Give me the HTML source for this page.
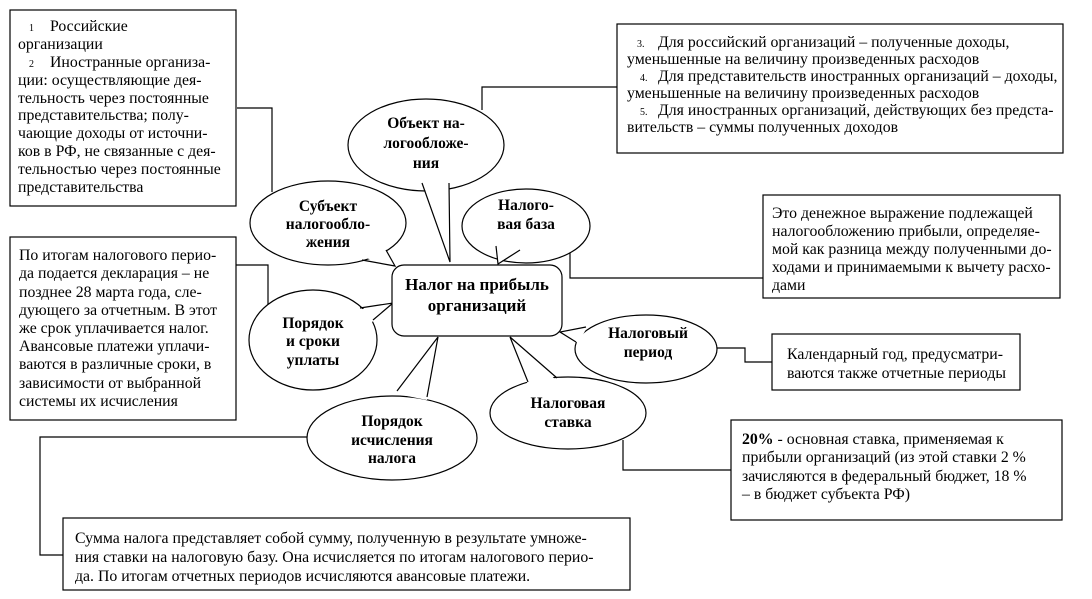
<!DOCTYPE html>
<html><head><meta charset="utf-8"><style>
html,body{margin:0;padding:0;background:#fff;}
svg{display:block;}
text{font-family:"Liberation Serif","DejaVu Serif",serif;fill:#000;}
.t{font-size:15.8px;}
.b{font-size:15.5px;font-weight:bold;}
</style></head><body>
<svg width="1092" height="599" viewBox="0 0 1092 599" xmlns="http://www.w3.org/2000/svg">
<g fill="none" stroke="#000" stroke-width="1.2">
<polyline points="237,108 272,108 272,192"/>
<polyline points="617,87 482,87 482,110"/>
<polyline points="570,240 570,278 763,278"/>
<polyline points="236,265 268,265 268,322"/>
<polyline points="717,348 745,348 745,362 772,362"/>
<polyline points="623,440 623,470 731,470"/>
<polyline points="307,437 40,437 40,555 63,555"/>
<rect x="10" y="10" width="226" height="196"/>
<rect x="617" y="24" width="446" height="129"/>
<rect x="763" y="195" width="297" height="103"/>
<rect x="10" y="237" width="226" height="183"/>
<rect x="772" y="334" width="248" height="56"/>
<rect x="731" y="420" width="331" height="100"/>
<rect x="63" y="518" width="567" height="72"/>
</g>
<g stroke="#000" stroke-width="1.2">
<ellipse cx="426" cy="145" rx="78" ry="46" fill="#fff"/>
<polygon points="422,181 450,262 449,181" fill="#fff" stroke="none"/>
<polyline points="422,183 450,262 449,183" fill="none"/>

<ellipse cx="328" cy="223" rx="78" ry="42" fill="#fff"/>
<polygon points="384,247 395,266 362,257" fill="#fff" stroke="none"/>
<polyline points="386,250 395,266 362,260" fill="none"/>

<ellipse cx="526" cy="226" rx="64" ry="37" fill="#fff"/>
<polygon points="496,242 498,264 520,247" fill="#fff" stroke="none"/>
<polyline points="496,246 498,264 520,250" fill="none"/>

<ellipse cx="313" cy="340" rx="64" ry="50" fill="#fff"/>
<polygon points="358,310 393,303 371,323" fill="#fff" stroke="none"/>
<polyline points="360,308 393,303 373,320" fill="none"/>

<ellipse cx="392" cy="438" rx="85" ry="42" fill="#fff"/>
<polygon points="397,394 438,337 427,400" fill="#fff" stroke="none"/>
<polyline points="397,391 438,337 427,397" fill="none"/>

<ellipse cx="568" cy="413" rx="78" ry="36" fill="#fff"/>
<polygon points="528,385 510,337 557,381" fill="#fff" stroke="none"/>
<polyline points="528,382 510,337 557,378" fill="none"/>

<ellipse cx="646" cy="349" rx="71" ry="34" fill="#fff"/>
<polygon points="578,343 560,332 588,326" fill="#fff" stroke="none"/>
<polyline points="576,342 560,332 586,327" fill="none"/>

<rect x="392" y="265" width="170" height="71" rx="12" ry="12" fill="#fff"/>
</g>
<g class="b" text-anchor="middle">
<text x="426" y="128">Объект на-</text>
<text x="426" y="148">логообложе-</text>
<text x="426" y="168">ния</text>
<text x="328" y="211">Субъект</text>
<text x="328" y="229">налогообло-</text>
<text x="328" y="247">жения</text>
<text x="526" y="210">Налого-</text>
<text x="526" y="229">вая база</text>
<text x="313" y="328">Порядок</text>
<text x="313" y="346">и сроки</text>
<text x="313" y="365">уплаты</text>
<text x="392" y="426">Порядок</text>
<text x="392" y="445">исчисления</text>
<text x="392" y="463">налога</text>
<text x="568" y="408">Налоговая</text>
<text x="568" y="427">ставка</text>
<text x="648" y="338">Налоговый</text>
<text x="648" y="357">период</text>
<text x="477" y="290" style="font-size:17px">Налог на прибыль</text>
<text x="477" y="311" style="font-size:17px">организаций</text>
</g>
<g class="t">
<text x="29" y="31"><tspan font-size="10">1</tspan><tspan x="50">Российские</tspan></text>
<text x="18" y="49">организации</text>
<text x="29" y="67"><tspan font-size="10">2</tspan><tspan x="50">Иностранные организа-</tspan></text>
<text x="18" y="85">ции: осуществляющие дея-</text>
<text x="18" y="103">тельность через постоянные</text>
<text x="18" y="120">представительства; полу-</text>
<text x="18" y="138">чающие доходы от источни-</text>
<text x="18" y="156">ков в РФ, не связанные с дея-</text>
<text x="18" y="174">тельностью через постоянные</text>
<text x="18" y="192">представительства</text>

<text x="637" y="47"><tspan font-size="10">3.</tspan><tspan x="658">Для российский организаций – полученные доходы,</tspan></text>
<text x="627" y="64">уменьшенные на величину произведенных расходов</text>
<text x="640" y="81"><tspan font-size="10">4.</tspan><tspan x="658">Для представительств иностранных организаций – доходы,</tspan></text>
<text x="627" y="98">уменьшенные на величину произведенных расходов</text>
<text x="640" y="115"><tspan font-size="10">5.</tspan><tspan x="658">Для иностранных организаций, действующих без предста-</tspan></text>
<text x="627" y="132">вительств – суммы полученных доходов</text>

<text x="772" y="218">Это денежное выражение подлежащей</text>
<text x="772" y="236">налогообложению прибыли, определяе-</text>
<text x="772" y="254">мой как разница между полученными до-</text>
<text x="772" y="272">ходами и принимаемыми к вычету расхо-</text>
<text x="772" y="290">дами</text>

<text x="19" y="260">По итогам налогового перио-</text>
<text x="19" y="278">да подается декларация – не</text>
<text x="19" y="297">позднее 28 марта года, сле-</text>
<text x="19" y="315">дующего за отчетным. В этот</text>
<text x="19" y="333">же срок уплачивается налог.</text>
<text x="19" y="351">Авансовые платежи уплачи-</text>
<text x="19" y="369">ваются в различные сроки, в</text>
<text x="19" y="388">зависимости от выбранной</text>
<text x="19" y="406">системы их исчисления</text>

<text x="787" y="359">Календарный год, предусматри-</text>
<text x="787" y="378">ваются также отчетные периоды</text>

<text x="742" y="444"><tspan font-weight="bold">20%</tspan> - основная ставка, применяемая к</text>
<text x="742" y="462">прибыли организаций (из этой ставки 2 %</text>
<text x="742" y="481">зачисляются в федеральный бюджет, 18 %</text>
<text x="742" y="499">– в бюджет субъекта РФ)</text>

<text x="75" y="543">Сумма налога представляет собой сумму, полученную в результате умноже-</text>
<text x="75" y="562">ния ставки на налоговую базу. Она исчисляется по итогам налогового перио-</text>
<text x="75" y="581">да. По итогам отчетных периодов исчисляются авансовые платежи.</text>
</g>
</svg>
</body></html>
